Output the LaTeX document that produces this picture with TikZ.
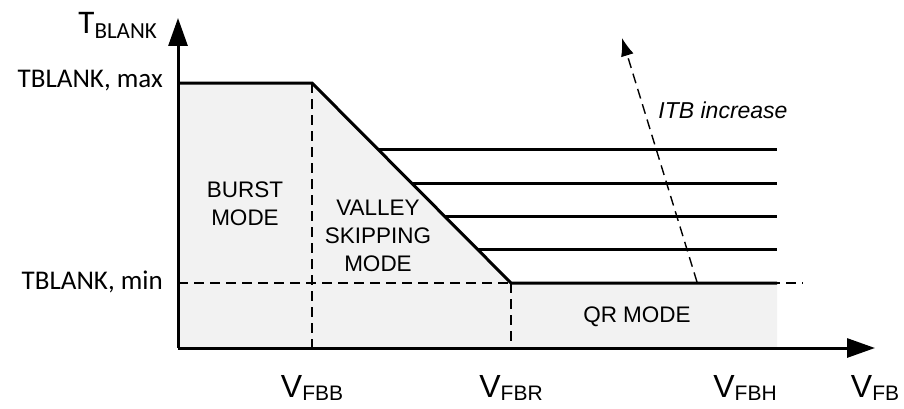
\documentclass[tikz,border=0pt]{standalone}
\usepackage{fontspec}
\setmainfont{Liberation Sans}
\newfontfamily\calfont{Carlito}
\usetikzlibrary{arrows.meta}
\definecolor{modegray}{HTML}{F2F2F2}
\newcommand{\vlab}[1]{{\fontsize{32}{34}\selectfont V}\raisebox{-3pt}{\fontsize{21}{22}\selectfont #1}}
\begin{document}
\begin{tikzpicture}[
  x=1pt, y=1pt,
  axis/.style={line width=3pt, -{Triangle[length=28pt,width=19pt]}},
  curve/.style={line width=3pt, line join=miter},
  guide/.style={line width=1.5pt, dash pattern=on 10pt off 6pt},
  modetext/.style={font=\fontsize{22.5}{28}\selectfont, align=center, text=black},
  ylab/.style={font=\calfont\fontsize{27}{29}\selectfont, anchor=east, inner sep=0pt},
  xlab/.style={inner sep=0pt}
]
  \useasboundingbox (0,0) rectangle (904,408);

  % Points
  \coordinate (o) at (178,60);
  \coordinate (ytop) at (178,390);
  \coordinate (xend) at (875,60);
  \coordinate (hmax) at (178,325);
  \coordinate (knee) at (312,325);
  \coordinate (foot) at (511,125);
  \coordinate (hmin) at (178,125);
  \coordinate (qrend) at (777,125);
  \coordinate (qrbase) at (777,60);
  \coordinate (minend) at (803,125);

  % Grey region
  \fill[modegray] (o) -- (hmax) -- (knee) -- (foot) -- (qrend) -- (qrbase) -- cycle;

  % Guides
  \draw[guide] (knee) -- (knee |- o);
  \draw[guide] (foot) -- (foot |- o);
  \draw[guide] (hmin) -- (minend);

  % Curves
  \draw[curve] (hmax) -- (knee) -- (foot) -- (qrend);
  \foreach \yy in {159,192,225,259} {
    \draw[curve] (312+325-\yy,\yy) -- (777,\yy);
  }

  % ITB arrow
  \coordinate (itbfrom) at (697,126);
  \coordinate (itbto) at (622,370);
  \draw[guide, line width=1.4pt, -{Latex[length=18pt,width=13pt]}] (itbfrom) -- (itbto);
  \node[font=\fontsize{23}{25}\selectfont\itshape] (itb) at (723,298) {ITB increase};

  % Axes
  \draw[axis] (o) -- (ytop);
  \draw[axis] (o) -- (xend);

  % Mode labels
  \node[modetext] (burst) at (245,204) {BURST\\MODE};
  \node[modetext] (valley) at (378,172) {VALLEY\\SKIPPING\\MODE};
  \node[modetext] (qr) at (637,91) {QR MODE};

  % Axis labels
  \node[ylab] (tblank) at (157,383) {{\fontsize{33}{35}\selectfont T}\raisebox{-5pt}{\fontsize{23}{25}\selectfont BLANK}};
  \node[ylab] (tmax) at (163,327) {TBLANK, max};
  \node[ylab] (tmin) at (163,126) {TBLANK, min};
  \node[xlab] (vfbb) at (312,20) {\vlab{FBB}};
  \node[xlab] (vfbr) at (511,20) {\vlab{FBR}};
  \node[xlab] (vfbh) at (745,20) {\vlab{FBH}};
  \node[xlab] (vfb) at (875,20) {\vlab{FB}};
\end{tikzpicture}
\end{document}
